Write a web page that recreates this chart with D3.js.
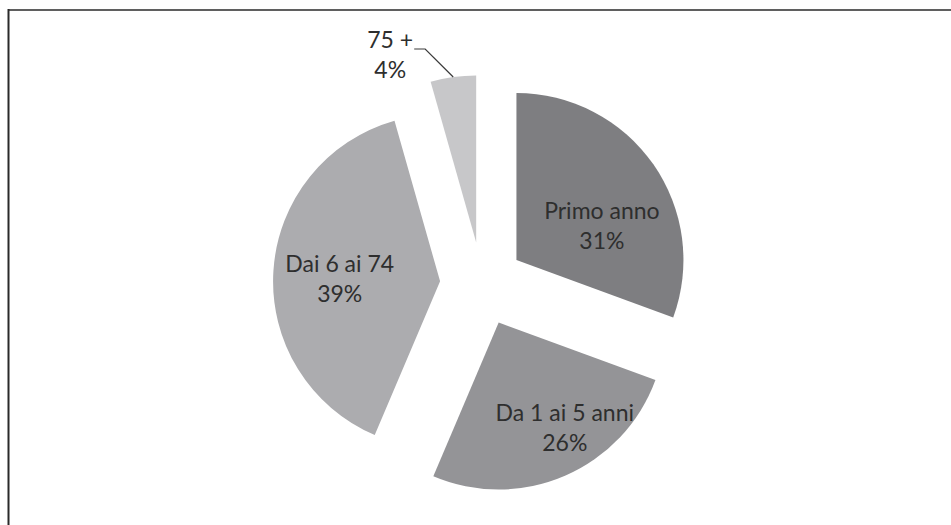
<!DOCTYPE html>
<html><head><meta charset="utf-8">
<script src="https://cdn.jsdelivr.net/npm/d3@7"></script>
<style>html,body{margin:0;padding:0;background:#fff;}svg{display:block;}</style>
</head><body>
<svg id="chart" width="951" height="525"></svg>
<script>
// ---- data ----
const categories = ["Primo anno", "Da 1 ai 5 anni", "Dai 6 ai 74", "75 +"];
const values = [30.6, 25.8, 39.2, 4.4];
const percentLabels = ["31%", "26%", "39%", "4%"];
const colors = ["#7e7e81", "#949497", "#acacaf", "#c7c7c9"];

// ---- layout ----
const W = 951, H = 525;
const cx = 482, cy = 284, R = 167, explode = 42;
const fontFam = "Lato, 'Open Sans', sans-serif";
const fontSize = 23, lineH = 30;
// label nudges from slice centroid (pixels), layout only
const nudges = [[17, 7], [33, 22], [-17, -4]];

const svg = d3.select("#chart");
svg.append("rect").attr("width", W).attr("height", H).attr("fill", "#fff");
// frame
svg.append("line").attr("x1", 8).attr("x2", W).attr("y1", 10).attr("y2", 10)
  .attr("stroke", "#5f5f5f").attr("stroke-width", 2);
svg.append("line").attr("x1", 8.5).attr("x2", 8.5).attr("y1", 9).attr("y2", H)
  .attr("stroke", "#2a2a2a").attr("stroke-width", 2);

const data = categories.map((c, i) => ({ name: c, value: values[i], label: percentLabels[i], color: colors[i], i }));
const pie = d3.pie().value(d => d.value).sort(null).startAngle(0).endAngle(2 * Math.PI);
const arcs = pie(data);
const arc = d3.arc().innerRadius(0).outerRadius(R);

const g = svg.append("g").attr("transform", `translate(${cx},${cy})`);
arcs.forEach(a => {
  const mid = (a.startAngle + a.endAngle) / 2;
  a.mid = mid;
  a.ox = explode * Math.sin(mid);
  a.oy = -explode * Math.cos(mid);
});

g.selectAll("path.slice").data(arcs).join("path")
  .attr("class", "slice")
  .attr("transform", d => `translate(${d.ox},${d.oy})`)
  .attr("d", arc)
  .attr("fill", d => d.data.color);

// inside labels
arcs.slice(0, 3).forEach((a, k) => {
  const c = arc.centroid(a);
  const x = a.ox + c[0] + nudges[k][0];
  const y = a.oy + c[1] + nudges[k][1];
  const t = g.append("text").attr("text-anchor", "middle")
    .attr("font-family", fontFam).attr("font-size", fontSize).attr("fill", "#2e2e2e");
  t.append("tspan").attr("x", x).attr("y", y).text(a.data.name);
  t.append("tspan").attr("x", x).attr("y", y + lineH).text(a.data.label);
});

// outside label with leader for the small slice
const s = arcs[3];
const px = s.ox + R * Math.sin(s.mid), py = s.oy - R * Math.cos(s.mid);
const ex = px - 28, ey = py - 28;
g.append("polyline")
  .attr("points", [[px, py], [ex, ey], [ex - 11, ey]].map(p => p.join(",")).join(" "))
  .attr("fill", "none").attr("stroke", "#3a3a3a").attr("stroke-width", 1.2);
const lx = ex - 35, ly = ey - 1;
const t4 = g.append("text").attr("text-anchor", "middle")
  .attr("font-family", fontFam).attr("font-size", fontSize).attr("fill", "#2e2e2e");
t4.append("tspan").attr("x", lx).attr("y", ly).text(s.data.name);
t4.append("tspan").attr("x", lx).attr("y", ly + lineH).text(s.data.label);
</script>
</body></html>
